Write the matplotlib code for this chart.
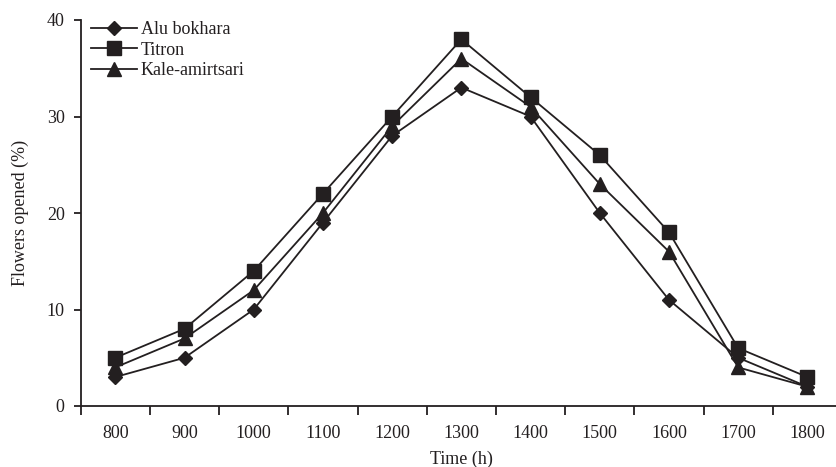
import matplotlib
matplotlib.use("Agg")
import matplotlib.pyplot as plt
from matplotlib.ticker import FixedLocator, NullFormatter

times = ["800", "900", "1000", "1100", "1200", "1300", "1400", "1500", "1600", "1700", "1800"]
alu_bokhara = [3, 5, 10, 19, 28, 33, 30, 20, 11, 5, 2]
titron = [5, 8, 14, 22, 30, 38, 32, 26, 18, 6, 3]
kale_amirtsari = [4, 7, 12, 20, 29, 36, 31, 23, 16, 4, 2]
yticks = [0, 10, 20, 30, 40]

plt.rcParams['font.family'] = ['Liberation Serif', 'DejaVu Serif']
col = '#231f20'
fs = 13

W, H = 836, 467
fig = plt.figure(figsize=(W / 100, H / 100), dpi=100)
left, right, bottom, top = 80.7, 842, 406, 20
ax = fig.add_axes([left / W, (H - bottom) / H, (right - left) / W, (bottom - top) / H])

x = list(range(len(times)))
lw = 1.3
ax.plot(x, alu_bokhara, color=col, lw=lw, marker='D', ms=7.6, label='Alu bokhara')
ax.plot(x, titron, color=col, lw=lw, marker='s', ms=10, label='Titron')
ax.plot(x, kale_amirtsari, color=col, lw=lw, marker='^', ms=10, label='Kale-amirtsari')

ax.set_xlim(-0.5, len(times) - 0.5)
ax.set_ylim(0, 40)
ax.set_yticks(yticks)
ax.set_xticks(x)
ax.set_xticklabels(times)
ax.tick_params(axis='x', which='major', length=0, pad=14, labelsize=fs, colors=col)
ax.xaxis.set_minor_locator(FixedLocator([i - 0.5 for i in range(len(times) + 1)]))
ax.xaxis.set_minor_formatter(NullFormatter())
ax.tick_params(axis='x', which='minor', length=6.5, width=1.3, color=col)
ax.tick_params(axis='y', length=5, width=1.3, pad=6.5, labelsize=fs, colors=col)

for s in ['top', 'right']:
    ax.spines[s].set_visible(False)
for s in ['left', 'bottom']:
    ax.spines[s].set_linewidth(1.3)
    ax.spines[s].set_color(col)

ax.set_ylabel('Flowers opened (%)', fontsize=fs, color=col)
ax.yaxis.set_label_coords((29 - left) / (right - left), 0.5)
ax.set_xlabel('Time (h)', fontsize=fs, color=col)
ax.xaxis.set_label_coords(0.5, -(450.5 - bottom) / (bottom - top))

leg = ax.legend(loc='upper left', bbox_to_anchor=(91 / W, (H - 21) / H),
                bbox_transform=fig.transFigure, frameon=False,
                fontsize=fs, handlelength=2.55, handletextpad=0.2,
                labelspacing=0.2, borderaxespad=0, borderpad=0)
for t in leg.get_texts():
    t.set_color(col)

fig.savefig('out.png', dpi=100)
